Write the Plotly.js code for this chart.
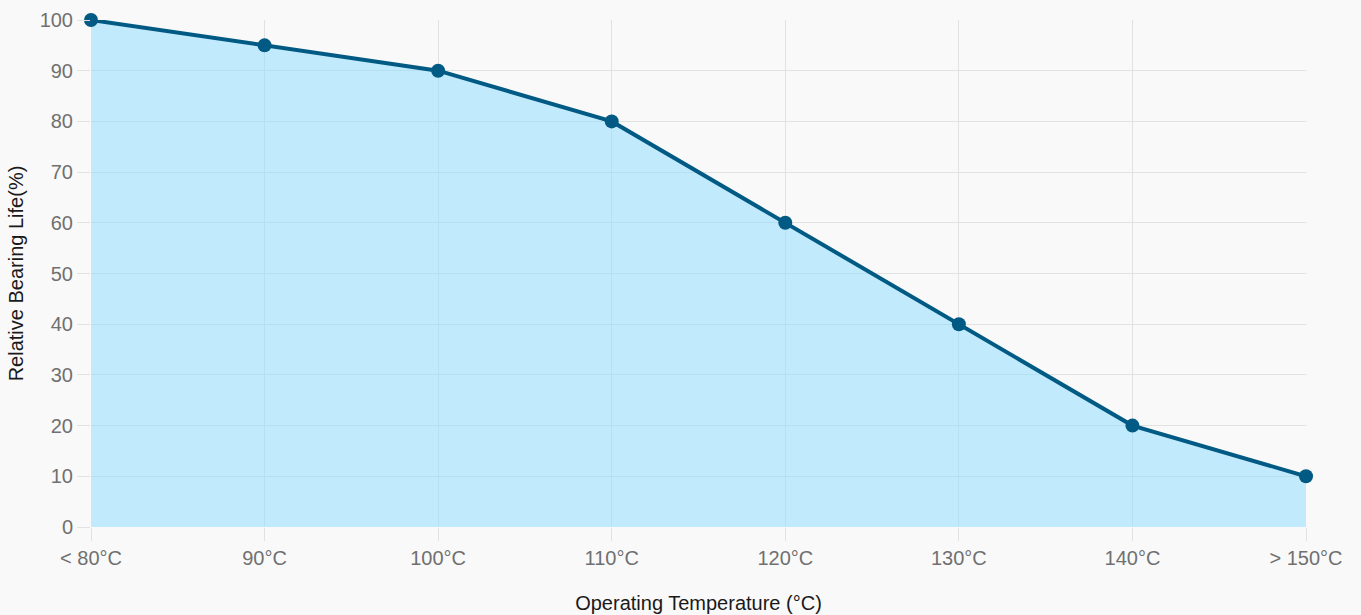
<!DOCTYPE html>
<html>
<head>
<meta charset="utf-8">
<script src="https://cdn.plot.ly/plotly-3.0.1.min.js"></script>
<style>html,body{margin:0;padding:0;background:#f9f9f9;}#chart{width:1361px;height:615px;}</style>
</head>
<body>
<div id="chart"></div>
<script>
const categories = ["< 80°C", "90°C", "100°C", "110°C", "120°C", "130°C", "140°C", "> 150°C"];
const lifeValues = [100, 95, 90, 80, 60, 40, 20, 10];
const yTicks = [0, 10, 20, 30, 40, 50, 60, 70, 80, 90, 100];

const trace = {
  x: categories,
  y: lifeValues,
  type: "scatter",
  mode: "lines+markers",
  fill: "tozeroy",
  fillcolor: "rgba(138,220,255,0.5)",
  line: {color: "#005a84", width: 4},
  marker: {color: "#005a84", size: 14},
  cliponaxis: false,
  hoverinfo: "x+y"
};

const layout = {
  width: 1361,
  height: 615,
  paper_bgcolor: "#f9f9f9",
  plot_bgcolor: "#f9f9f9",
  margin: {l: 91, r: 55, t: 20, b: 88},
  showlegend: false,
  font: {family: "'Liberation Sans', Arial, sans-serif"},
  xaxis: {
    type: "category",
    range: [0, categories.length - 1],
    showgrid: true,
    gridcolor: "#e2e2e2",
    zeroline: false,
    showline: false,
    ticks: "outside",
    ticklen: 13,
    tickcolor: "#e2e2e2",
    tickfont: {size: 20, color: "#707070"},
    title: {text: "Operating Temperature (°C)", font: {size: 20, color: "#1a1a1a"}, standoff: 27}
  },
  yaxis: {
    range: [0, 100],
    tickvals: yTicks,
    showgrid: true,
    gridcolor: "#e2e2e2",
    zeroline: false,
    showline: false,
    ticks: "outside",
    ticklen: 13,
    tickcolor: "#e2e2e2",
    tickfont: {size: 20, color: "#707070"},
    title: {text: "Relative Bearing Life(%)", font: {size: 20, color: "#1a1a1a"}, standoff: 10}
  }
};

Plotly.newPlot("chart", [trace], layout, {displayModeBar: false, staticPlot: true});
</script>
</body>
</html>
